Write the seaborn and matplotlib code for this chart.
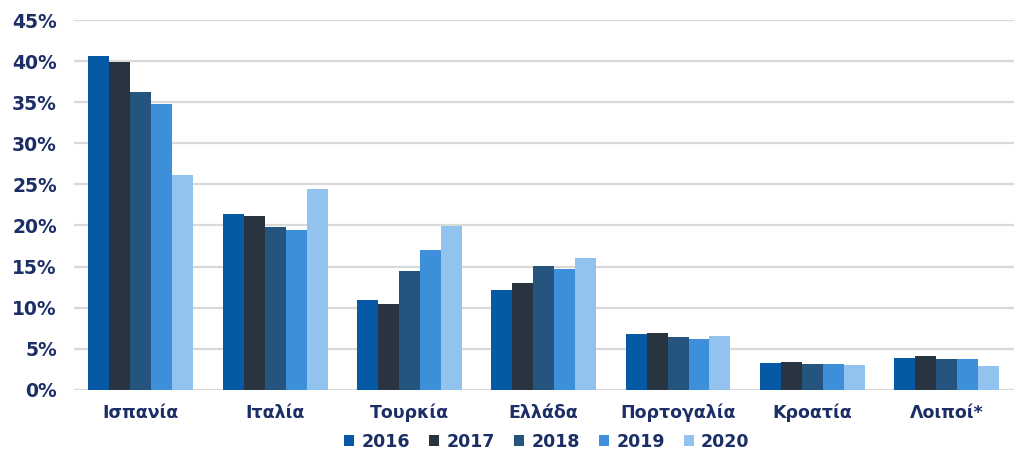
import matplotlib
matplotlib.use("Agg")
import matplotlib.pyplot as plt
import pandas as pd
import seaborn as sns
from matplotlib.ticker import FuncFormatter

# Data (share in %)
countries = ["Ισπανία", "Ιταλία", "Τουρκία", "Ελλάδα", "Πορτογαλία", "Κροατία", "Λοιποί*"]
years = ["2016", "2017", "2018", "2019", "2020"]
v2016 = [40.6, 21.4, 10.9, 12.2, 6.8, 3.3, 3.85]
v2017 = [39.9, 21.1, 10.5, 13.0, 6.9, 3.4, 4.1]
v2018 = [36.2, 19.8, 14.4, 15.1, 6.4, 3.1, 3.8]
v2019 = [34.8, 19.4, 17.0, 14.7, 6.2, 3.1, 3.8]
v2020 = [26.1, 24.4, 19.9, 16.0, 6.6, 3.0, 2.95]
colors = ["#065AA5", "#283440", "#25547E", "#3D8FD9", "#92C3EE"]

rows = []
for year, vals in zip(years, [v2016, v2017, v2018, v2019, v2020]):
    for c, v in zip(countries, vals):
        rows.append({"country": c, "year": year, "value": v})
df = pd.DataFrame(rows)

sns.set_theme(style="white")
plt.rcParams['font.family'] = ['DejaVu Sans']
navy = "#1B2F66"

fig, ax = plt.subplots(figsize=(10.24, 4.49), dpi=100)
fig.subplots_adjust(left=0.072, right=0.99, top=0.955, bottom=0.132)

sns.barplot(data=df, x="country", y="value", hue="year", palette=colors,
            width=0.78, gap=0, saturation=1, linewidth=0, ax=ax, legend=True)

ax.set_ylim(0, 45)
ax.set_yticks(range(0, 46, 5))
ax.yaxis.set_major_formatter(FuncFormatter(lambda v, p: f"{int(v)}%"))
ax.grid(axis="y", color="#D9D9D9", linewidth=1.6)
ax.set_axisbelow(True)
for s in ax.spines.values():
    s.set_visible(False)
ax.set_xlabel("")
ax.set_ylabel("")
ax.tick_params(axis="y", length=0, labelsize=13.5, labelcolor=navy, pad=12)
ax.tick_params(axis="x", length=0, labelsize=12.5, labelcolor=navy, pad=10)
for lab in ax.get_xticklabels() + ax.get_yticklabels():
    lab.set_fontweight("bold")

handles, labels = ax.get_legend_handles_labels()
ax.get_legend().remove()
fig.legend(handles, labels, loc="center", bbox_to_anchor=(0.534, 0.016), ncol=5,
           frameon=False, handlelength=0.6, handleheight=0.6, handletextpad=0.4,
           columnspacing=1.1, borderaxespad=0, borderpad=0,
           prop={"weight": "bold", "size": 12.5}, labelcolor=navy)

fig.savefig("out.png", dpi=100)
